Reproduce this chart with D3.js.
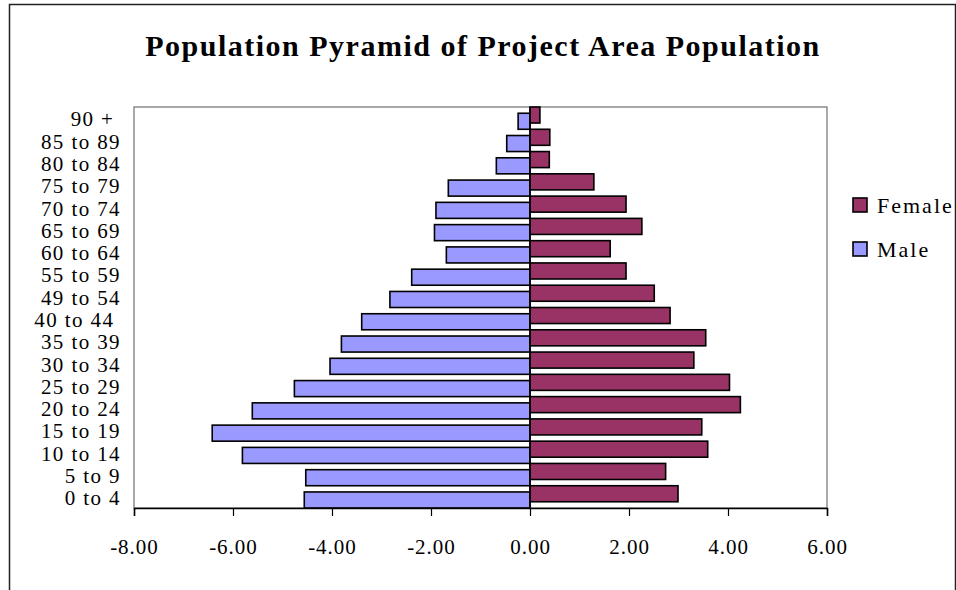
<!DOCTYPE html>
<html>
<head>
<meta charset="utf-8">
<script src="https://cdn.jsdelivr.net/npm/d3@7/dist/d3.min.js"></script>
<style>
  html, body { margin: 0; padding: 0; background: #fff; }
  svg { display: block; }
  svg text { font-family: "Liberation Serif", "Times New Roman", Tinos, Times, serif; fill: #000; white-space: pre; }
</style>
</head>
<body>
<svg id="chart" width="956" height="590"></svg>
<script>
// Age groups, top to bottom
const ageGroups = ["90 + ", "85 to 89", "80 to 84", "75 to 79", "70 to 74", "65 to 69",
  "60 to 64", "55 to 59", "49 to 54", "40 to 44 ", "35 to 39", "30 to 34",
  "25 to 29", "20 to 24", "15 to 19", "10 to 14", "5 to 9", "0 to 4"];

// Share of population (%), males plotted as negative values
const maleValues = [-0.24, -0.47, -0.68, -1.65, -1.90, -1.93,
  -1.69, -2.39, -2.83, -3.40, -3.81, -4.04,
  -4.76, -5.61, -6.42, -5.81, -4.53, -4.56];
const femaleValues = [0.20, 0.40, 0.39, 1.29, 1.94, 2.26,
  1.62, 1.94, 2.51, 2.83, 3.55, 3.31,
  4.03, 4.25, 3.47, 3.59, 2.74, 2.99];

const xTicks = [-8, -6, -4, -2, 0, 2, 4, 6];
const seriesNames = ["Female", "Male"];
const seriesColors = { Female: "#993366", Male: "#9999FF" };

const FONT = "'Liberation Serif', 'Times New Roman', Tinos, Times, serif";

const svg = d3.select("#chart");

// Chart frame
svg.append("path")
  .attr("d", "M9.5,600 V4.5 H955.5 V600")
  .attr("fill", "none").attr("stroke", "#222").attr("stroke-width", 1.5);

// Title
svg.append("text")
  .attr("x", 483).attr("y", 56)
  .attr("text-anchor", "middle")
  .style("font-family", FONT)
  .style("font-size", "30px").style("font-weight", "bold").style("letter-spacing", "1.5px")
  .text("Population Pyramid of Project Area Population");

const plot = { left: 134, right: 827, top: 107, bottom: 508 };

const x = d3.scaleLinear().domain([-8, 6]).range([plot.left, plot.right]);
const y = d3.scaleBand().domain(ageGroups).range([plot.top, plot.bottom]).padding(0);

const bw = y.bandwidth();
const barH = bw * 0.72;

// Plot area border
svg.append("rect")
  .attr("x", plot.left).attr("y", plot.top)
  .attr("width", plot.right - plot.left).attr("height", plot.bottom - plot.top)
  .attr("fill", "none").attr("stroke", "#707070").attr("stroke-width", 1.2);

// Female bars sit at the top of each band, male bars at the bottom
svg.append("g").selectAll("rect")
  .data(ageGroups.map((g, i) => ({ g, v: maleValues[i] })))
  .join("rect")
  .attr("x", d => x(d.v))
  .attr("y", d => y(d.g) + bw - barH)
  .attr("width", d => x(0) - x(d.v))
  .attr("height", barH)
  .attr("fill", seriesColors.Male)
  .attr("stroke", "#000").attr("stroke-width", 1.6);

svg.append("g").selectAll("rect")
  .data(ageGroups.map((g, i) => ({ g, v: femaleValues[i] })))
  .join("rect")
  .attr("x", x(0))
  .attr("y", d => y(d.g))
  .attr("width", d => x(d.v) - x(0))
  .attr("height", barH)
  .attr("fill", seriesColors.Female)
  .attr("stroke", "#000").attr("stroke-width", 1.6);

// Category axis at zero
svg.append("line")
  .attr("x1", x(0)).attr("x2", x(0))
  .attr("y1", plot.top).attr("y2", plot.bottom)
  .attr("stroke", "#000").attr("stroke-width", 1.5);

// Category labels
svg.append("g").selectAll("text")
  .data(ageGroups)
  .join("text")
  .attr("x", 121)
  .attr("y", d => y(d) + bw / 2 + 1)
  .attr("dy", "0.35em")
  .attr("text-anchor", "end")
  .style("font-family", FONT)
  .style("font-size", "21px").style("letter-spacing", "1.4px")
  .text(d => d);

// Value axis (plain hyphen for negatives)
const fmt = d3.format(".2f");
const xAxis = d3.axisBottom(x)
  .tickValues(xTicks)
  .tickSize(8)
  .tickPadding(23)
  .tickFormat(d => fmt(d).replace("\u2212", "-"));

const gx = svg.append("g")
  .attr("transform", `translate(0,${plot.bottom})`)
  .call(xAxis);
gx.attr("font-family", null);
gx.select(".domain").attr("stroke", "#000").attr("stroke-width", 1.5);
gx.selectAll(".tick line").attr("stroke", "#000").attr("stroke-width", 1.2);
gx.selectAll(".tick text")
  .style("font-family", FONT)
  .style("font-size", "21px").style("letter-spacing", "1px")
  .attr("fill", "#000");

// Legend
const legend = svg.append("g").selectAll("g")
  .data(seriesNames)
  .join("g")
  .attr("transform", (d, i) => `translate(853,${198 + i * 44})`);
legend.append("rect")
  .attr("width", 14).attr("height", 14)
  .attr("fill", d => seriesColors[d])
  .attr("stroke", "#000").attr("stroke-width", 1.6);
legend.append("text")
  .attr("x", 24).attr("y", 7).attr("dy", "0.35em")
  .style("font-family", FONT)
  .style("font-size", "22px").style("letter-spacing", "2px")
  .text(d => d);
</script>
</body>
</html>
